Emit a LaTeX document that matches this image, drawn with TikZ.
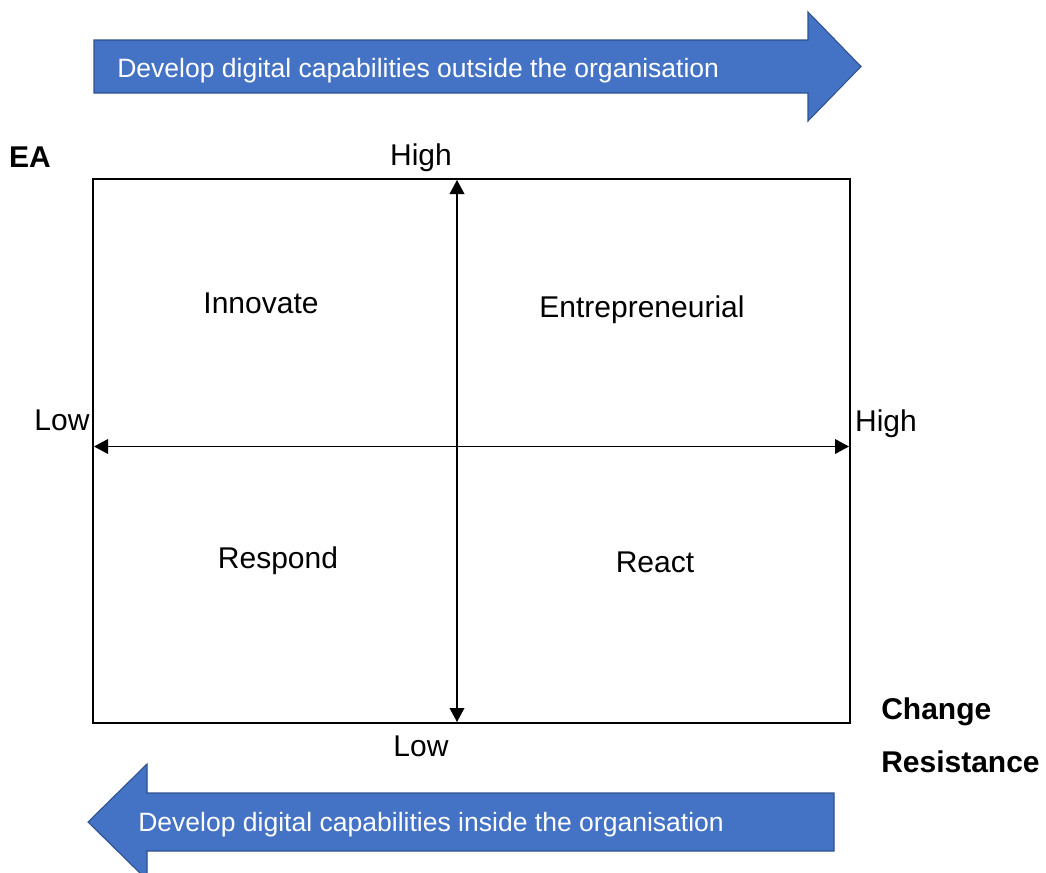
\documentclass[tikz,border=0pt]{standalone}
\usepackage{fontspec}
\setmainfont{Liberation Sans}
\usetikzlibrary{arrows.meta}
\definecolor{bandblue}{HTML}{4472C4}
\definecolor{bandedge}{HTML}{2F528F}
\begin{document}
\begin{tikzpicture}[x=0.75pt,y=-0.75pt,
  lbl/.style={inner sep=0pt, font=\fontsize{22.5}{27}\selectfont},
  boldlbl/.style={inner sep=0pt, font=\fontsize{22.5}{27}\selectfont\bfseries},
  bandtext/.style={inner sep=0pt, anchor=west, text=white, font=\fontsize{19.9}{24}\selectfont},
  band/.style={fill=bandblue, draw=bandedge, line width=0.8pt, line join=miter},
  axis/.style={line width=1.1pt, {Triangle[length=10.5pt,width=11pt]}-{Triangle[length=10.5pt,width=11pt]}},
  frame/.style={draw, line width=1.9pt}]
\useasboundingbox (0,0) rectangle (1046,872);
\clip (0,0) rectangle (1046,872);

% outward band arrow
\draw[band] (94,40) -- (808,40) -- (808,12) -- (861,66.5) -- (808,121) -- (808,93) -- (94,93) -- cycle;
\node[bandtext] (outside) at (117,71) {Develop digital capabilities outside the organisation};

% inward band arrow
\draw[band] (834,793) -- (147,793) -- (147,764) -- (88,822) -- (147,880) -- (147,851) -- (834,851) -- cycle;
\node[bandtext] (inside) at (138,825) {Develop digital capabilities inside the organisation};

% quadrant frame
\coordinate (tl) at (93,179);
\coordinate (br) at (850,723);
\draw[frame] (tl) rectangle (br);

% axes
\coordinate (vtop) at (457,180);
\coordinate (vbot) at (457,722);
\coordinate (hleft) at (94,446.5);
\coordinate (hright) at (849,446.5);
\draw[axis] (vbot) -- (vtop);
\draw[axis] (hleft) -- (hright);

% axis labels
\node[lbl] (vhigh) at (421,158) {High};
\node[lbl] (vlow) at (421,746) {Low};
\node[lbl] (hlow) at (62,420) {Low};
\node[lbl] (hhigh) at (886,424) {High};
\node[boldlbl] (ea) at (30,157) {EA};
\node[boldlbl, anchor=west] (change) at (881,712) {Change};
\node[boldlbl, anchor=west] (resist) at (881,762) {Resistance};

% quadrant names
\node[lbl] (innovate) at (261,303) {Innovate};
\node[lbl] (entre) at (642,310) {Entrepreneurial};
\node[lbl] (respond) at (278,561) {Respond};
\node[lbl] (react) at (655,562) {React};
\end{tikzpicture}
\end{document}
